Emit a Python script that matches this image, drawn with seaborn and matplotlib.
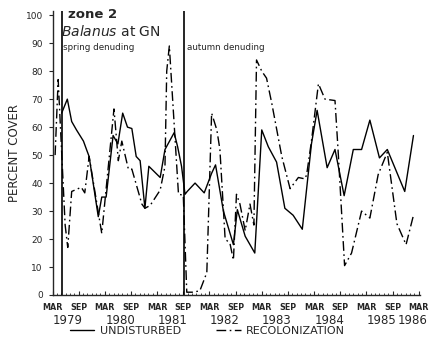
import matplotlib
matplotlib.use("Agg")
import matplotlib.pyplot as plt
import seaborn as sns
import pandas as pd
import numpy as np

# months since March 1979
undisturbed_month = [2.1, 3.4, 4.4, 5.5, 7.1, 7.8, 8.4, 10.5, 11.3, 12.3, 13.9, 15.0, 16.1, 17.2,
                     18.2, 19.2, 20.1, 21.2, 22.1, 24.7, 25.8, 27.9, 28.7, 29.6, 30.4, 30.9, 32.7,
                     34.8, 36.5, 37.4, 39.2, 41.5, 42.4, 44.2, 46.4, 48.0, 49.5, 51.4, 53.3, 55.2,
                     57.3, 59.4, 60.7, 63.0, 64.8, 66.9, 69.0, 70.9, 72.8, 75.0, 76.8, 80.8, 82.8]
undisturbed_cover = [65, 70, 62, 59, 55, 52, 49.5, 28, 35, 35, 57, 54, 65, 60,
                     59.5, 49.5, 48, 31, 46, 42, 52, 58, 53, 46, 36, 37, 40,
                     36.5, 43.5, 46.5, 30, 18, 30.5, 21, 15, 59, 53, 47.5, 31, 28.5,
                     23.5, 54, 66, 45.5, 52, 35.5, 52, 52, 62.5, 49, 52, 37, 57]

recol_month = [0.6, 1.3, 2.9, 3.5, 4.4, 6.6, 7.4, 8.4, 11.3, 14.1, 15.1, 15.9, 17.4, 18.2,
               20.5, 21.2, 22.4, 24.7, 25.8, 26.2, 26.8, 28.9, 30.0, 30.8, 32.2, 33.8, 35.4,
               36.5, 37.7, 38.4, 39.6, 40.7, 41.5, 42.2, 43.0, 44.2, 45.3, 46.2, 46.8, 48.0,
               49.1, 50.3, 52.6, 54.5, 56.4, 57.9, 58.3, 59.4, 61.0, 62.5, 64.8, 65.5, 67.0,
               68.6, 70.9, 72.8, 74.7, 76.8, 79.0, 81.1, 82.8]
recol_cover = [50, 77, 25, 17, 37, 38.5, 36.5, 49.5, 22, 66.5, 48, 55, 45, 45,
               32.5, 31, 32, 37.5, 46, 80, 89, 36, 35.7, 1, 1, 1.5, 8,
               65, 59, 52, 20, 18.5, 12.5, 36, 32.5, 23, 32.5, 25, 84, 80,
               77.5, 68.5, 49.5, 38, 42, 41.5, 43, 55, 75.5, 70, 69.5, 52, 10.5,
               15, 30, 27.5, 43, 51, 25.5, 18, 28.5]

denuding_month = [2.1, 30.2]
denuding_labels = ["spring denuding", "autumn denuding"]

month_ticks = list(range(0, 85, 6))
month_labels = ["MAR", "SEP"] * 7 + ["MAR"]
year_pos = [3.5, 15.5, 27.5, 39.5, 51.5, 63.5, 75.5, 82.6]
year_labels = ["1979", "1980", "1981", "1982", "1983", "1984", "1985", "1986"]
y_ticks = list(range(0, 101, 10))

df = pd.concat([
    pd.DataFrame({"month": undisturbed_month, "cover": undisturbed_cover, "series": "UNDISTURBED"}),
    pd.DataFrame({"month": recol_month, "cover": recol_cover, "series": "RECOLONIZATION"}),
], ignore_index=True)

sns.set_style("ticks")
plt.rcParams["font.family"] = ["DejaVu Sans"]

fig = plt.figure(figsize=(4.32, 3.37), dpi=100)
ax = fig.add_axes([52.5 / 432, 42 / 337, 367.5 / 432, 284 / 337])

sns.lineplot(data=df, x="month", y="cover", hue="series", style="series",
             palette={"UNDISTURBED": "black", "RECOLONIZATION": "black"},
             dashes={"UNDISTURBED": "", "RECOLONIZATION": (7, 2.5, 1.2, 2.5)},
             estimator=None, sort=False, linewidth=1.0, ax=ax, legend=True)

ax.vlines(denuding_month, 0, 101.5, color="black", linewidth=1.2)

ax.set_xlim(0, 84.3)
ax.set_ylim(0, 101.5)
sns.despine(ax=ax)
for s in ["left", "bottom"]:
    ax.spines[s].set_linewidth(1.0)

ax.set_yticks(y_ticks)
ax.set_yticklabels([str(t) for t in y_ticks], fontsize=6.5)
ax.tick_params(axis="y", direction="out", length=3, width=0.8, pad=4)

ax.set_xticks(month_ticks)
ax.set_xticklabels(month_labels, fontsize=5.8, fontweight="bold")
ax.set_xticks(np.arange(0, 85, 1), minor=True)
ax.tick_params(axis="x", which="major", direction="in", length=3, width=0.8, pad=5.5)
ax.tick_params(axis="x", which="minor", direction="in", length=1.8, width=0.6)

for p, lab in zip(year_pos, year_labels):
    ax.text(p, -0.089, lab, transform=ax.get_xaxis_transform(), ha="center", va="center",
            fontsize=8.5)

ax.set_xlabel("")
ax.set_ylabel("PERCENT COVER", fontsize=8.5, labelpad=3)

handles, labels = ax.get_legend_handles_labels()
ax.get_legend().remove()
fig.legend(handles, labels, loc="center", bbox_to_anchor=(0.48, 0.018), ncol=2,
           frameon=False, fontsize=8, handlelength=2.2, handletextpad=0.5,
           columnspacing=3.2, borderpad=0)

fig.text(68 / 432, 1 - 15 / 337, "zone 2", fontsize=9.5, fontweight="bold", va="center", ha="left")
fig.text(61 / 432, 1 - 31 / 337, r"$\it{Balanus}$ at GN", fontsize=10, va="center", ha="left")
fig.text(63 / 432, 1 - 48 / 337, denuding_labels[0], fontsize=6.3, va="center", ha="left")
fig.text(187 / 432, 1 - 48 / 337, denuding_labels[1], fontsize=6.3, va="center", ha="left")

fig.savefig("out.png", dpi=100)
